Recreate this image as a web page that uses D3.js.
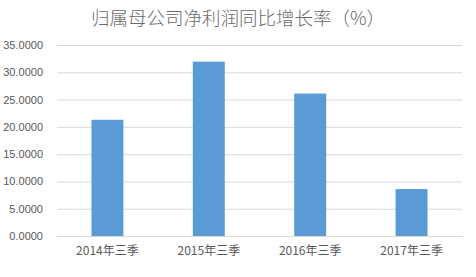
<!DOCTYPE html>
<html>
<head>
    <meta charset="utf-8">
    <script src="https://d3js.org/d3.v7.min.js"></script>
    <style>
        body { margin: 0; background: #fff; font-family: "Microsoft YaHei", "Noto Sans CJK SC", sans-serif; }
    </style>
</head>
<body>
    <div id="chart"></div>
    <script>
        const categories = ["2014年三季", "2015年三季", "2016年三季", "2017年三季"];
        const values = [21.3, 31.95, 26.1, 8.6];
        const yTicks = [0, 5, 10, 15, 20, 25, 30, 35];
        const title = "归属母公司净利润同比增长率（%）";

        const width = 476, height = 277;
        const margin = { top: 45, right: 14, bottom: 41, left: 57 };
        const innerW = width - margin.left - margin.right;
        const innerH = height - margin.top - margin.bottom;

        const svg = d3.select("#chart").append("svg")
            .attr("width", width)
            .attr("height", height);

        svg.append("text")
            .attr("x", width / 2)
            .attr("y", 25)
            .attr("text-anchor", "middle")
            .style("font-size", "18.5px")
            .style("font-weight", "300")
            .style("fill", "#6a6a6a")
            .text(title);

        const g = svg.append("g")
            .attr("transform", "translate(" + margin.left + "," + margin.top + ")");

        const x = d3.scaleBand()
            .domain(categories)
            .range([0, innerW])
            .paddingInner(0.685)
            .paddingOuter(0.34);
        const y = d3.scaleLinear()
            .domain([0, 35])
            .range([innerH, 0]);

        // gridlines + y labels
        const yAxis = g.append("g")
            .call(d3.axisLeft(y).tickValues(yTicks).tickSize(-innerW).tickFormat(d3.format(".4f")).tickPadding(14));
        yAxis.select(".domain").remove();
        yAxis.selectAll(".tick line").attr("stroke", "#d9d9d9");
        yAxis.selectAll(".tick text")
            .style("font-size", "11px")
            .style("fill", "#595959")
            .style("font-family", "Arial, 'Liberation Sans', sans-serif");

        g.selectAll(".bar")
            .data(values)
            .enter().append("rect")
            .attr("class", "bar")
            .attr("x", (d, i) => x(categories[i]))
            .attr("width", x.bandwidth())
            .attr("y", d => y(d))
            .attr("height", d => innerH - y(d))
            .attr("fill", "#5b9bd5");

        const xAxis = g.append("g")
            .attr("transform", "translate(0," + innerH + ")")
            .call(d3.axisBottom(x).tickSize(0).tickPadding(10));
        xAxis.select(".domain").attr("stroke", "#d9d9d9");
        xAxis.selectAll(".tick text")
            .style("font-size", "12px")
            .style("fill", "#595959")
            .style("font-family", "'Microsoft YaHei', 'Noto Sans CJK SC', sans-serif");
    </script>
</body>
</html>
